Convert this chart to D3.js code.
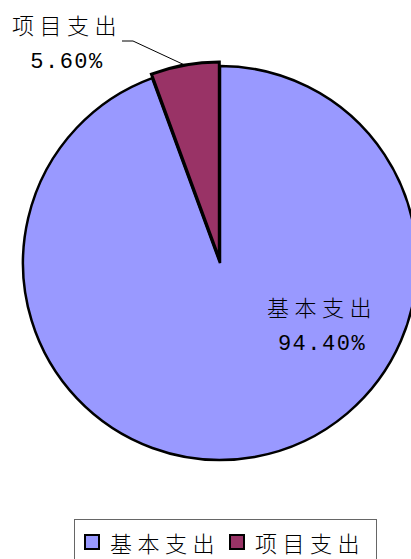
<!DOCTYPE html>
<html>
<head>
<meta charset="utf-8">
<script src="https://cdn.jsdelivr.net/npm/d3@7"></script>
<style>
  html, body { margin: 0; padding: 0; background: #fff; }
  svg { display: block; }
  .cjk { font-family: "Noto Sans CJK SC", sans-serif; }
  .num { font-family: "Liberation Mono", monospace; }
</style>
</head>
<body>
<svg id="chart"></svg>
<script>
var categories = ["基本支出", "项目支出"];
var values = [94.4, 5.6];
var pctLabels = ["94.40%", "5.60%"];
var colors = ["#9999FF", "#993366"];

var width = 411, height = 559;
var cx = 220, cy = 263, radius = 197;

var svg = d3.select("#chart")
  .attr("width", width)
  .attr("height", height);

var pie = d3.pie().sort(null).value(function(d) { return d; });
var arcs = pie(values);

var arc = d3.arc().innerRadius(0).outerRadius(radius);

var colorScale = d3.scaleOrdinal()
  .domain(categories)
  .range(colors);

var g = svg.append("g")
  .attr("transform", "translate(" + cx + "," + cy + ")");

// exploded distance for the small slice
var explode = [0, 4];

function offset(d, i) {
  var a = (d.startAngle + d.endAngle) / 2;
  return [Math.sin(a) * explode[i], -Math.cos(a) * explode[i]];
}

g.selectAll(".slice")
  .data(arcs)
  .enter()
  .append("path")
  .attr("class", "slice")
  .attr("transform", function(d, i) {
    var o = offset(d, i);
    return "translate(" + o[0] + "," + o[1] + ")";
  })
  .attr("d", arc)
  .style("fill", function(d, i) { return colorScale(categories[i]); })
  .style("stroke", "#000")
  .style("stroke-width", function(d, i) { return i === 1 ? 3 : 2.5; })
  .style("stroke-linejoin", "miter");

// leader line for the small slice
var small = arcs[1];
var mid = (small.startAngle + small.endAngle) / 2;
var rEnd = radius + explode[1];
var endPt = [cx + Math.sin(mid) * rEnd, cy - Math.cos(mid) * rEnd];

svg.append("polyline")
  .attr("points", [[122, 41], [133, 41], endPt].map(function(p) { return p.join(","); }).join(" "))
  .style("fill", "none")
  .style("stroke", "#000")
  .style("stroke-width", 1);

// data labels
var labelPos = [
  { x: 322, y1: 316, y2: 350 },
  { x: 67, y1: 34, y2: 68 }
];

labelPos.forEach(function(p, i) {
  svg.append("text")
    .attr("class", "cjk")
    .attr("x", p.x)
    .attr("y", p.y1)
    .style("font-size", "22px")
    .style("font-weight", 300)
    .style("letter-spacing", "5.5px")
    .style("text-anchor", "middle")
    .style("fill", "#000")
    .text(categories[i]);
  svg.append("text")
    .attr("class", "num")
    .attr("x", p.x)
    .attr("y", p.y2)
    .style("font-size", "22px")
    .style("letter-spacing", "1.5px")
    .style("text-anchor", "middle")
    .style("fill", "#000")
    .text(pctLabels[i]);
});

// legend
svg.append("rect")
  .attr("x", 74.5)
  .attr("y", 519.5)
  .attr("width", 302)
  .attr("height", 60)
  .style("fill", "#fff")
  .style("stroke", "#666")
  .style("stroke-width", 1);

var legendX = [84, 229];

var legend = svg.selectAll(".legend")
  .data(categories)
  .enter().append("g")
  .attr("class", "legend")
  .attr("transform", function(d, i) {
    return "translate(" + legendX[i] + ",534)";
  });

legend.append("rect")
  .attr("x", 1)
  .attr("y", 1)
  .attr("width", 14)
  .attr("height", 14)
  .style("fill", colorScale)
  .style("stroke", "#000")
  .style("stroke-width", 2);

legend.append("text")
  .attr("class", "cjk")
  .attr("x", 26)
  .attr("y", 18)
  .style("font-size", "22px")
  .style("font-weight", 300)
  .style("letter-spacing", "5.5px")
  .style("fill", "#000")
  .text(function(d) { return d; });
</script>
</body>
</html>
